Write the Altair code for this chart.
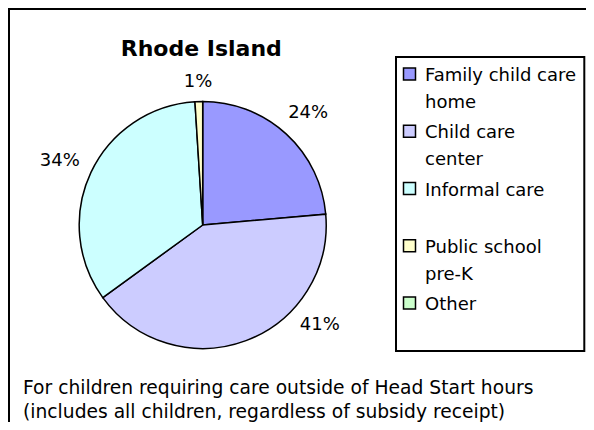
import altair as alt
import pandas as pd

# ---- data ----
categories = ["Family child care home", "Child care center", "Informal care",
              "Public school pre-K", "Other"]
legend_labels = ["Family child care\nhome", "Child care\ncenter", "Informal care",
                 "Public school\npre-K", "Other"]
shares = [23.6, 41.4, 34.0, 1.0, 0.0]
colors = ["#9999FF", "#CCCCFF", "#CCFFFF", "#FFFFCC", "#CCFFCC"]
title_text = "Rhode Island"
footer_lines = ["For children requiring care outside of Head Start hours",
                "(includes all children, regardless of subsidy receipt)"]

df = pd.DataFrame({
    "category": categories,
    "legend": legend_labels,
    "value": shares,
    "order": list(range(len(categories))),
})

FONT = "DejaVu Sans"
CX, CY = 194.7, 217.0
R = 123.5
W, H = 578, 414

color = alt.Color("category:N", scale=alt.Scale(domain=categories, range=colors), legend=None)
base = alt.Chart(df)

# outer frame (top and left edges only)
frame_top = alt.Chart(pd.DataFrame({"k": [0]})).mark_rule(color="black", strokeWidth=2).encode(
    x=alt.value(0), x2=alt.value(W), y=alt.value(1))
frame_left = alt.Chart(pd.DataFrame({"k": [0]})).mark_rule(color="black", strokeWidth=2).encode(
    x=alt.value(1), y=alt.value(0), y2=alt.value(H))

# pie
pie = base.transform_filter("datum.value > 0").mark_arc(
    stroke="black", strokeWidth=1.5, outerRadius=R
).encode(
    theta=alt.Theta("value:Q", stack=True),
    order=alt.Order("order:Q"),
    color=color,
    x=alt.value(CX), y=alt.value(CY),
)

label_base = base.transform_filter("datum.value > 0").transform_joinaggregate(
    total="sum(value)"
).transform_window(
    cum="sum(value)", sort=[alt.SortField("order")], frame=[None, 0]
).transform_calculate(
    mid="2*PI*(datum.cum - datum.value/2)/datum.total"
).transform_calculate(
    lr="136 + 9*abs(cos(datum.mid)) + 20*abs(sin(datum.mid))"
).transform_calculate(
    label="format(datum.value, '.0f') + '%'"
)

label_enc = dict(
    theta=alt.Theta("mid:Q", scale=None),
    radius=alt.Radius("lr:Q", scale=None),
    text=alt.Text("label:N"),
    x=alt.value(CX), y=alt.value(CY),
)

labels = label_base.transform_filter("datum.category != 'Child care center'").mark_text(
    font=FONT, fontSize=18, color="black", dy=3
).encode(**label_enc)

label_41 = label_base.transform_filter("datum.category == 'Child care center'").mark_text(
    font=FONT, fontSize=18, color="black", dx=64, dy=-42
).encode(**label_enc)

# title
title = alt.Chart(pd.DataFrame({"t": [title_text]})).mark_text(
    font=FONT, fontSize=22, fontWeight="bold", align="center", baseline="alphabetic", color="black"
).encode(text="t:N", x=alt.value(193.3), y=alt.value(48))

# legend
legend_box = alt.Chart(pd.DataFrame({"k": [0]})).mark_rect(
    fill="white", stroke="black", strokeWidth=2
).encode(x=alt.value(388), x2=alt.value(576.3), y=alt.value(49), y2=alt.value(343))

leg_y = alt.Y("category:N", axis=None,
              scale=alt.Scale(type="point", domain=categories, range=[66, 295], padding=0))
leg_sq = base.mark_square(size=144, stroke="black", strokeWidth=1.5, opacity=1).encode(
    x=alt.value(401.5), y=leg_y, color=color)
leg_txt = base.mark_text(
    font=FONT, fontSize=18, align="left", baseline="alphabetic", dy=7,
    lineBreak="\n", lineHeight=27, color="black"
).encode(x=alt.value(417), y=leg_y, text="legend:N")

# footer
footer = alt.Chart(pd.DataFrame({"t": ["\n".join(footer_lines)]})).mark_text(
    font=FONT, fontSize=18.7, align="left", baseline="alphabetic",
    lineBreak="\n", lineHeight=23.5, color="black"
).encode(text="t:N", x=alt.value(15), y=alt.value(386))

chart = alt.layer(
    frame_top, frame_left, pie, labels, label_41, title, legend_box, leg_sq, leg_txt, footer
).properties(
    width=W, height=H, padding=0, autosize=alt.AutoSizeParams(type="none")
).configure_view(stroke=None)

chart.save("out.html", embed_options={"renderer": "svg", "actions": False})
